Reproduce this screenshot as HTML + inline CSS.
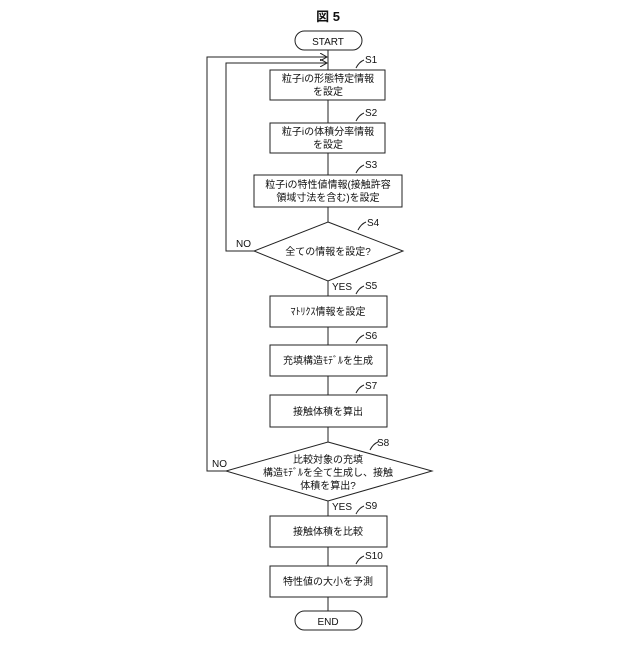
<!DOCTYPE html>
<html><head><meta charset="utf-8"><style>
body{margin:0;background:#fff}
svg text{font-family:"Liberation Sans","Noto Sans CJK JP",sans-serif;fill:#111}
</style></head><body>
<svg width="640" height="640" viewBox="0 0 640 640">
<defs><marker id="a" markerWidth="8" markerHeight="8" refX="7" refY="4" orient="auto"><path d="M0,0 L7,4 L0,8" fill="none" stroke="#222" stroke-width="1"/></marker></defs>
<g stroke="#222" stroke-width="1" fill="none">
<text x="328" y="21" font-size="13" text-anchor="middle" stroke="none" font-weight="bold">図 5</text>
<rect x="295" y="31" width="67" height="19" rx="9.5" fill="#fff"/>
<rect x="295" y="611" width="67" height="19" rx="9.5" fill="#fff"/>
<line x1="328" y1="50" x2="328" y2="611"/>
<rect x="270" y="70" width="115" height="30" fill="#fff"/>
<rect x="270" y="123" width="115" height="30" fill="#fff"/>
<rect x="254" y="175" width="148" height="32" fill="#fff"/>
<polygon points="328,222 403,251 328,281 254,251" fill="#fff"/>
<rect x="270" y="296" width="117" height="31" fill="#fff"/>
<rect x="270" y="345" width="117" height="31" fill="#fff"/>
<rect x="270" y="395" width="117" height="32" fill="#fff"/>
<polygon points="328,442 432,471 328,501 226,471" fill="#fff"/>
<rect x="270" y="516" width="117" height="31" fill="#fff"/>
<rect x="270" y="566" width="117" height="31" fill="#fff"/>
<polyline points="254,251 226,251 226,63 327,63" marker-end="url(#a)"/>
<polyline points="226,471 207,471 207,57 327,57" marker-end="url(#a)"/>
<path d="M356,68 q3,-6 8,-8"/><path d="M356,121 q3,-6 8,-8"/><path d="M356,173 q3,-6 8,-8"/>
<path d="M358,230 q3,-6 8,-8"/><path d="M356,294 q3,-6 8,-8"/><path d="M356,343 q3,-6 8,-8"/>
<path d="M356,393 q3,-6 8,-8"/><path d="M370,450 q3,-6 8,-8"/><path d="M356,514 q3,-6 8,-8"/><path d="M356,564 q3,-6 8,-8"/>
</g>
<g font-size="10" text-anchor="middle">
<text x="328" y="45">START</text>
<text x="328" y="625">END</text>
<text x="328" y="82">粒子iの形態特定情報</text><text x="328" y="95">を設定</text>
<text x="328" y="135">粒子iの体積分率情報</text><text x="328" y="148">を設定</text>
<text x="328" y="188">粒子iの特性値情報(接触許容</text><text x="328" y="201">領域寸法を含む)を設定</text>
<text x="328" y="255">全ての情報を設定?</text>
<text x="328" y="315">ﾏﾄﾘｸｽ情報を設定</text>
<text x="328" y="364">充填構造ﾓﾃﾞﾙを生成</text>
<text x="328" y="415">接触体積を算出</text>
<text x="328" y="463">比較対象の充填</text><text x="328" y="476">構造ﾓﾃﾞﾙを全て生成し、接触</text><text x="328" y="489">体積を算出?</text>
<text x="328" y="535">接触体積を比較</text>
<text x="328" y="585">特性値の大小を予測</text>
</g>
<g font-size="10">
<text x="365" y="63">S1</text><text x="365" y="116">S2</text><text x="365" y="168">S3</text>
<text x="367" y="226">S4</text><text x="365" y="289">S5</text><text x="365" y="339">S6</text>
<text x="365" y="389">S7</text><text x="377" y="446">S8</text><text x="365" y="509">S9</text><text x="365" y="559">S10</text>
<text x="236" y="247">NO</text><text x="212" y="467">NO</text>
<text x="332" y="290">YES</text><text x="332" y="510">YES</text>
</g>
</svg>
</body></html>
